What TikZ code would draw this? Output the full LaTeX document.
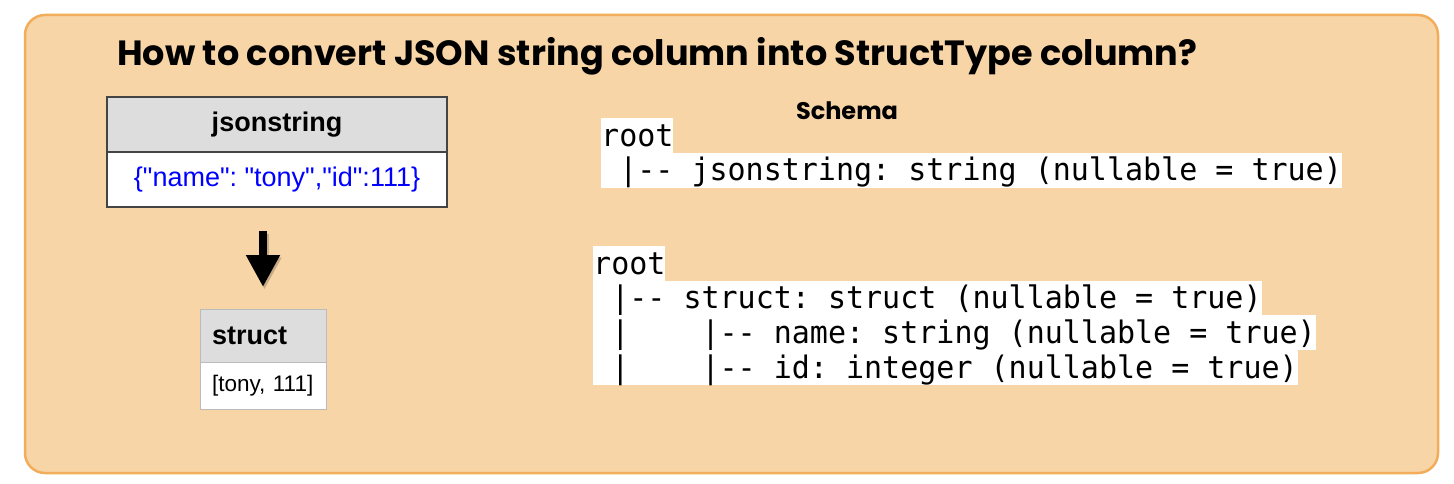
\documentclass[tikz,border=0pt]{standalone}
\usepackage{fontspec}
\usepackage{graphicx}
\setmainfont{Liberation Sans}
\newfontfamily\plainsans{Liberation Sans}
\newfontfamily\titlefont{Poppins}
\newfontfamily\codefont{DejaVu Sans Mono}[FakeStretch=0.968]
\usetikzlibrary{arrows.meta}
\definecolor{bgfill}{HTML}{F7D5A6}
\definecolor{bgdraw}{HTML}{F2AD5B}
\definecolor{hdrfill}{HTML}{DDDDDD}
\definecolor{darkbord}{HTML}{444444}
\definecolor{lightbord}{HTML}{BBBBBB}
\definecolor{jsonblue}{HTML}{0000FF}
\newcommand\dashdash{-\kern0pt-}
\frenchspacing
\tikzset{
  tcell/.style={draw=darkbord, line width=1.2pt, inner sep=0, minimum width=340pt, minimum height=55pt},
  scell/.style={draw=lightbord, line width=1pt, inner xsep=12pt, inner ysep=0pt, text width=102pt, align=left, minimum width=126pt},
  codeline/.style={fill=white, inner sep=0pt, anchor=north west, text height=28pt, text depth=7pt,
    font=\codefont\fontsize{31}{34}\selectfont\frenchspacing},
}
\begin{document}
\begin{tikzpicture}[x=1pt,y=-1pt]
\useasboundingbox (0,0) rectangle (1454,484);
\draw[bgdraw, fill=bgfill, line width=2.5pt, rounded corners=20pt] (25,15) rectangle (1438,473);

% title
\node[anchor=base west, inner sep=0] (title) at (117,66)
  {\resizebox{1080pt}{!}{\titlefont\bfseries\fontsize{32}{36}\selectfont How to convert JSON string column into StructType column?}};

% jsonstring table
\node[tcell, fill=hdrfill, font=\bfseries\fontsize{27}{30}\selectfont] (jsh) at (277,124.5) {jsonstring};
\node[tcell, fill=white, font=\plainsans\fontsize{27}{30}\selectfont\frenchspacing, text=jsonblue] (jsb) at (277,179.5) {\{"name": "tony","id":111\}};

% arrow
\coordinate (arrS) at (263,231);
\coordinate (arrE) at (263,287);
\draw[black, opacity=0.2, line width=8pt, -{Triangle[length=32pt,width=32pt]}] ([shift={(1.5,2.5)}]arrS) -- ([shift={(1.5,2.5)}]arrE);
\draw[black, line width=8pt, -{Triangle[length=32pt,width=32pt]}] (arrS) -- (arrE);

% struct table
\node[scell, fill=hdrfill, minimum height=53pt, font=\bfseries\fontsize{27}{30}\selectfont] (sth) at (263,335.5) {struct};
\node[scell, fill=white, minimum height=47pt, font=\fontsize{22.5}{25}\selectfont] (stb) at (263,385.5) {[tony, 111]};

% schema
\node[anchor=base, inner sep=0] (schema) at (847,120) {\titlefont\bfseries\fontsize{24}{28}\selectfont Schema};

\node[codeline] (c1a) at (601,118) {root};
\node[codeline] (c1b) at (601,152.6) {\ |\dashdash\ jsonstring: string (nullable = true)};

\node[codeline] (c2a) at (593,246) {root};
\node[codeline] (c2b) at (593,280.6) {\ |\dashdash\ struct: struct (nullable = true)};
\node[codeline] (c2c) at (593,315.2) {\ |\ \ \ \ |\dashdash\ name: string (nullable = true)};
\node[codeline] (c2d) at (593,349.8) {\ |\ \ \ \ |\dashdash\ id: integer (nullable = true)};
\end{tikzpicture}
\end{document}
